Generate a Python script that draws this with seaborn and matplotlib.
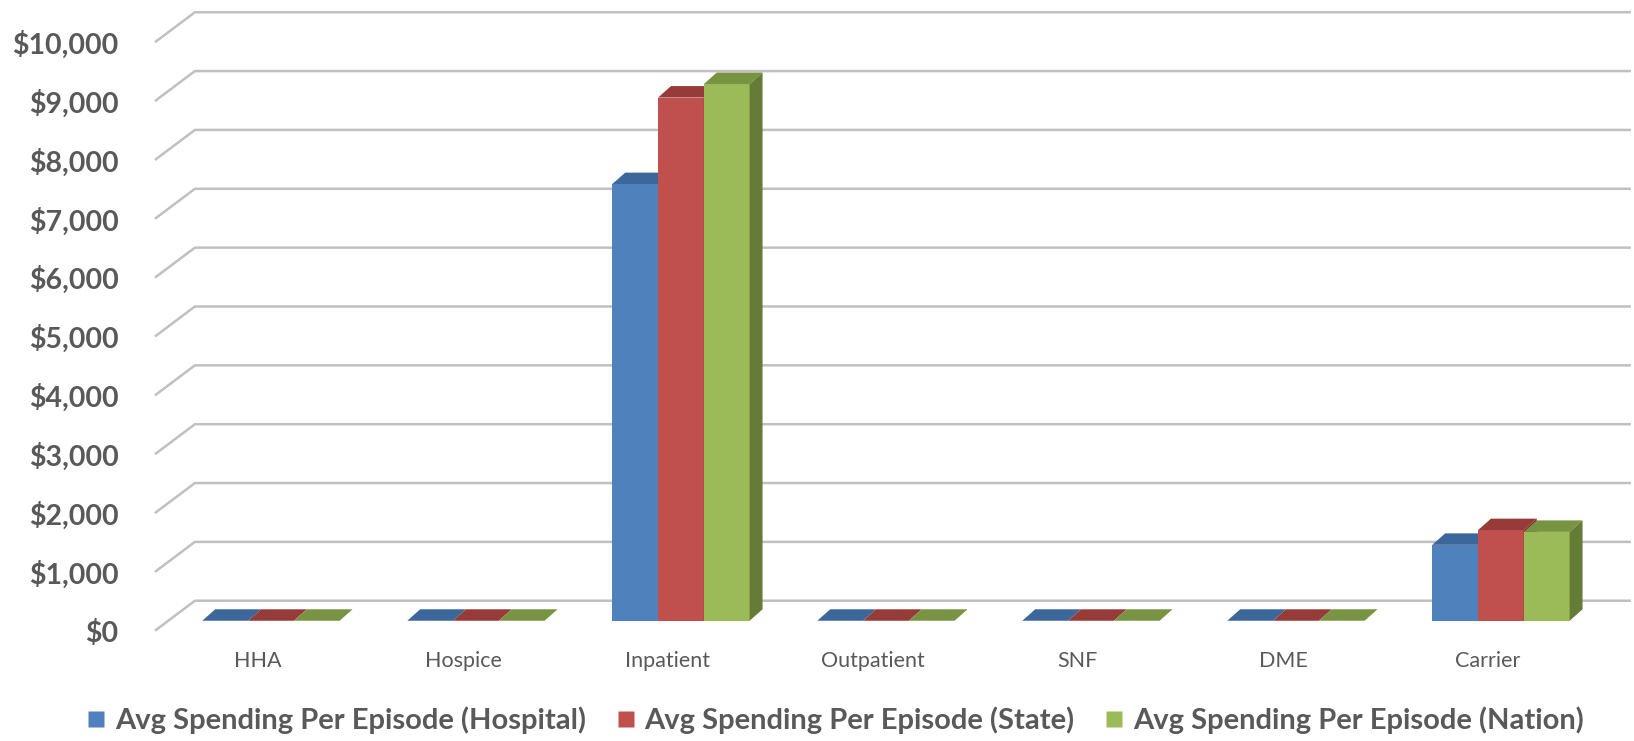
import pandas as pd
import matplotlib.pyplot as plt
import matplotlib.transforms as mtransforms
from matplotlib.patches import Polygon
from matplotlib.lines import Line2D
import seaborn as sns

# chart data
categories = ['HHA', 'Hospice', 'Inpatient', 'Outpatient', 'SNF', 'DME', 'Carrier']
series_names = ['Avg Spending Per Episode (Hospital)',
                'Avg Spending Per Episode (State)',
                'Avg Spending Per Episode (Nation)']
hospital = [0, 0, 7420, 0, 0, 0, 1290]
state = [0, 0, 8890, 0, 0, 0, 1540]
nation = [0, 0, 9120, 0, 0, 0, 1510]
y_ticks = [0, 1000, 2000, 3000, 4000, 5000, 6000, 7000, 8000, 9000, 10000]

front_colors = ['#4F81BD', '#C0504D', '#9BBB59']
top_colors = ['#3C679B', '#973B39', '#789442']
side_colors = ['#345A88', '#7E302E', '#647C35']
grey = '#595959'

df = pd.DataFrame({
    'category': categories * 3,
    'series': [s for s in series_names for _ in categories],
    'value': hospital + state + nation,
})

sns.set_theme(style="white")
plt.rcParams['font.family'] = ['Lato', 'DejaVu Sans']

fig = plt.figure(figsize=(16.34, 7.41), dpi=100)
ax = fig.add_axes([0.1031, 0.1464, 0.8782, 0.8498])

sns.barplot(data=df, x='category', y='value', hue='series', order=categories,
            hue_order=series_names, palette=front_colors, saturation=1,
            width=0.67, legend=False, ax=ax)

ax.set_xlim(-0.5, 6.5)
ax.set_ylim(-200, 10500)

# fake 3D depth for each bar
dx, dv = 0.063, 195
for k, cont in enumerate(ax.containers):
    for bar in cont:
        x0 = bar.get_x()
        x1 = x0 + bar.get_width()
        h = bar.get_height()
        z = 3 + x0 * 0.1
        bar.set_zorder(z)
        bar.set_edgecolor('none')
        top = Polygon([(x0, h), (x1, h), (x1 + dx, h + dv), (x0 + dx, h + dv)],
                      closed=True, facecolor=top_colors[k], edgecolor='none', zorder=z)
        side = Polygon([(x1, 0), (x1, h), (x1 + dx, h + dv), (x1 + dx, dv)],
                       closed=True, facecolor=side_colors[k], edgecolor='none', zorder=z)
        ax.add_patch(top)
        ax.add_patch(side)

# back wall gridlines with the floor diagonal
for v in y_ticks:
    ax.plot([-0.566, -0.371, 6.634], [v - 170, v + 340, v + 340], color='#C0C0C0',
            lw=1.8, zorder=1, clip_on=False, solid_capstyle='butt')

for s in ax.spines.values():
    s.set_visible(False)
ax.grid(False)
ax.set_xlabel('')
ax.set_ylabel('')

ax.set_yticks(y_ticks)
ax.set_yticklabels(['${:,}'.format(v) for v in y_ticks])
ax.tick_params(axis='y', length=0, pad=36, labelsize=20.5, labelcolor=grey)
for lab in ax.get_yticklabels():
    lab.set_fontweight('bold')
    lab.set_transform(lab.get_transform() +
                      mtransforms.ScaledTranslation(0, -10 / 100, fig.dpi_scale_trans))

ax.tick_params(axis='x', length=0, pad=13, labelsize=15.5, labelcolor=grey)
for lab in ax.get_xticklabels():
    lab.set_transform(lab.get_transform() +
                      mtransforms.ScaledTranslation(-13 / 100, 0, fig.dpi_scale_trans))

handles = [Line2D([], [], marker='s', linestyle='none', markersize=12.2,
                  markerfacecolor=c, markeredgecolor='none') for c in front_colors]
fig.legend(handles, series_names, loc='center', bbox_to_anchor=(0.511, 0.028),
           ncol=3, frameon=False, handlelength=0.7, handletextpad=0.3,
           columnspacing=1.0, prop={'size': 21, 'weight': 'bold'},
           labelcolor=grey)

plt.savefig('out.png', dpi=100)
plt.close()
